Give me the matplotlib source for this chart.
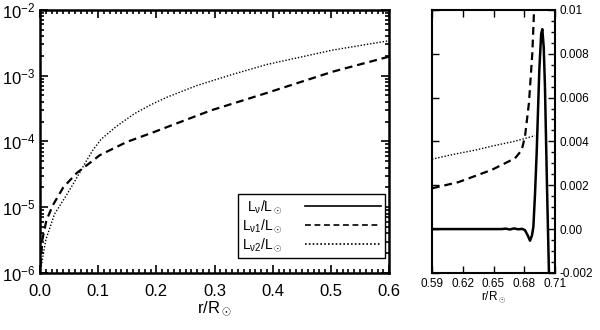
import numpy as np
import matplotlib.pyplot as plt
from matplotlib.ticker import MultipleLocator, LogLocator, NullFormatter

plt.rcParams['font.family'] = ['Liberation Sans', 'DejaVu Sans']
plt.rcParams['mathtext.fontset'] = 'custom'
plt.rcParams['mathtext.rm'] = 'Liberation Sans'
plt.rcParams['mathtext.it'] = 'Liberation Sans'
plt.rcParams['mathtext.bf'] = 'Liberation Sans:bold'

# left panel: log scale, whole interior
r1_left = [0.001, 0.004, 0.011, 0.022, 0.040, 0.063, 0.103, 0.149, 0.195,
           0.293, 0.388, 0.503, 0.600]
l1_left = [1.26e-6, 3.2e-6, 6.3e-6, 1.07e-5, 2.0e-5, 3.3e-5, 6.2e-5, 9.8e-5,
           1.38e-4, 2.95e-4, 5.4e-4, 1.15e-3, 1.95e-3]

r2_left = [0.002, 0.010, 0.025, 0.045, 0.060, 0.077, 0.090, 0.105, 0.130,
           0.161, 0.190, 0.218, 0.270, 0.330, 0.390, 0.503, 0.600]
l2_left = [1.26e-6, 3.2e-6, 7.9e-6, 1.5e-5, 2.5e-5, 4.6e-5, 7.2e-5, 1.08e-4,
           1.66e-4, 2.6e-4, 3.6e-4, 4.7e-4, 7.1e-4, 1.04e-3, 1.48e-3, 2.45e-3,
           3.4e-3]

# right panel: linear scale near the base of the convection zone
rnu = [0.590, 0.650, 0.658, 0.662, 0.666, 0.670, 0.674, 0.678, 0.6807, 0.6835,
       0.6856, 0.6875, 0.6889, 0.6905, 0.6921, 0.6947, 0.6965, 0.6976, 0.6990,
       0.7002, 0.7022, 0.7041, 0.7055]
lnu = [0.0, 0.0, 0.0, 0.00002, -0.00002, 0.00003, -0.00001, 0.00001, -0.00005,
       -0.00030, -0.00053, -0.00030, 0.0001, 0.0016, 0.00346, 0.00726, 0.00890,
       0.00912, 0.00830, 0.0065, 0.00194, -0.002, -0.004]

r1_right = [0.590, 0.6157, 0.6482, 0.671, 0.6775, 0.6807, 0.6846, 0.6879,
            0.6900, 0.6910]
l1_right = [0.00186, 0.00214, 0.0027, 0.00323, 0.0036, 0.00422, 0.00576,
            0.00804, 0.0105, 0.012]

r2_right = [0.590, 0.610, 0.632, 0.650, 0.670, 0.6905]
l2_right = [0.00319, 0.0034, 0.0036, 0.0038, 0.0040, 0.00426]

left_xticks = [0.0, 0.1, 0.2, 0.3, 0.4, 0.5, 0.6]
right_xticks = [0.59, 0.62, 0.65, 0.68, 0.71]
right_yticks = [-0.002, 0.0, 0.002, 0.004, 0.006, 0.008, 0.01]
right_ylabels = ['-0.002', '0.00', '0.002', '0.004', '0.006', '0.008', '0.01']

labels = [r'$\mathrm{L_\nu/L_\odot}$', r'$\mathrm{L_{\nu1}/L_\odot}$',
          r'$\mathrm{L_{\nu2}/L_\odot}$']
xlab = r'r/R$_\odot$'

solid = dict(color='black', lw=1.8, ls='-')
dashed = dict(color='black', lw=1.6, ls=(0, (3.5, 2.2)))
dotted = dict(color='black', lw=1.0, ls=(0, (1, 1.3)))

fig = plt.figure(figsize=(6, 3.3), dpi=100)
ax = fig.add_axes([0.0667, 0.173, 0.582, 0.797])
ax2 = fig.add_axes([0.72, 0.173, 0.205, 0.797])

ax.plot([], [], label=labels[0], **solid)
ax.plot(r1_left, l1_left, label=labels[1], **dashed)
ax.plot(r2_left, l2_left, label=labels[2], **dotted)
ax.set_yscale('log')
ax.set_xlim(0, 0.6)
ax.set_ylim(1e-6, 1e-2)
ax.set_xticks(left_xticks)
ax.set_xticklabels(['%.1f' % v for v in left_xticks])
ax.xaxis.set_minor_locator(MultipleLocator(0.01))
ax.yaxis.set_major_locator(LogLocator(base=10, numticks=10))
ax.yaxis.set_minor_locator(LogLocator(base=10, subs=np.arange(2, 10), numticks=20))
ax.yaxis.set_minor_formatter(NullFormatter())
ax.tick_params(which='both', direction='in', top=True, right=True,
               labelsize=12, width=1.2)
ax.tick_params(which='major', length=6)
ax.tick_params(which='minor', length=3)
ax.tick_params(axis='x', pad=8)
ax.set_xlabel(xlab, fontsize=12, labelpad=0)
for s in ax.spines.values():
    s.set_linewidth(1.8)

leg = ax.legend(loc='lower right', bbox_to_anchor=(0.989, 0.057),
                borderaxespad=0, fontsize=10, markerfirst=False,
                handlelength=5.5, handletextpad=1.6, labelspacing=0.05,
                fancybox=False, edgecolor='black', framealpha=1,
                borderpad=0.3)
leg.get_frame().set_linewidth(1.0)
for h in leg.get_lines():
    h.set_linewidth(1.2)

ax2.plot(rnu, lnu, **solid)
ax2.plot(r1_right, l1_right, **dashed)
ax2.plot(r2_right, l2_right, **dotted)
ax2.set_xlim(0.59, 0.71)
ax2.set_ylim(-0.002, 0.01)
ax2.set_xticks(right_xticks)
ax2.set_xticklabels(['%.2f' % v for v in right_xticks])
ax2.set_yticks(right_yticks)
ax2.set_yticklabels(right_ylabels)
ax2.yaxis.set_minor_locator(MultipleLocator(0.0005))
ax2.yaxis.tick_right()
ax2.tick_params(which='both', direction='in', top=True, left=True, right=True,
                labelleft=False, labelright=True, labelsize=8.5, width=1.0)
ax2.tick_params(which='major', length=5)
ax2.tick_params(which='minor', length=3, left=False)
ax2.set_xlabel(xlab, fontsize=8.5, labelpad=0)
for s in ax2.spines.values():
    s.set_linewidth(1.5)

fig.savefig('out.png', dpi=100)
